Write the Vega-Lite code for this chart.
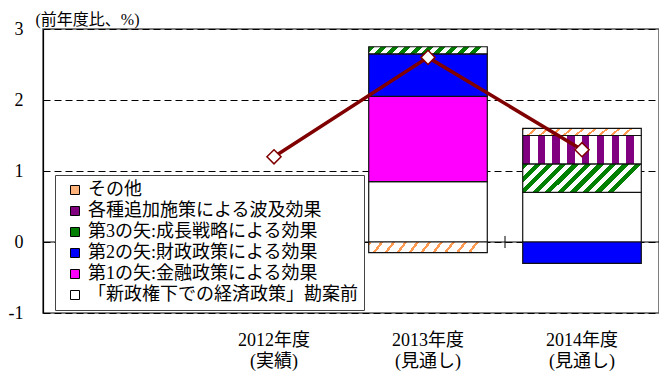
{
  "$schema": "https://vega.github.io/schema/vega-lite/v6.json",
  "width": 616,
  "height": 284,
  "autosize": {"type": "none"},
  "padding": {"left": 43, "top": 29, "right": 0, "bottom": 59},
  "config": {
    "font": "'Liberation Serif', 'Times New Roman', 'Noto Sans CJK JP', serif",
    "view": {"stroke": "#555", "strokeWidth": 1.5},
    "axis": {"labelColor": "#000", "titleColor": "#000"}
  },
  "datasets": {
    "bars": [
      {"year": "2013年度|(見通し)", "fy": 2013, "series": "「新政権下での経済政策」勘案前", "k": 1, "value": 0.85},
      {"year": "2013年度|(見通し)", "fy": 2013, "series": "第1の矢:金融政策による効果", "k": 2, "value": 1.2},
      {"year": "2013年度|(見通し)", "fy": 2013, "series": "第2の矢:財政政策による効果", "k": 3, "value": 0.6},
      {"year": "2013年度|(見通し)", "fy": 2013, "series": "第3の矢:成長戦略による効果", "k": 4, "value": 0.1},
      {"year": "2013年度|(見通し)", "fy": 2013, "series": "その他", "k": 6, "value": -0.15},
      {"year": "2014年度|(見通し)", "fy": 2014, "series": "「新政権下での経済政策」勘案前", "k": 1, "value": 0.7},
      {"year": "2014年度|(見通し)", "fy": 2014, "series": "第2の矢:財政政策による効果", "k": 3, "value": -0.3},
      {"year": "2014年度|(見通し)", "fy": 2014, "series": "第3の矢:成長戦略による効果", "k": 4, "value": 0.4},
      {"year": "2014年度|(見通し)", "fy": 2014, "series": "各種追加施策による波及効果", "k": 5, "value": 0.4},
      {"year": "2014年度|(見通し)", "fy": 2014, "series": "その他", "k": 6, "value": 0.1}
    ],
    "growth": [
      {"year": "2012年度|(実績)", "total": 1.2},
      {"year": "2013年度|(見通し)", "total": 2.6},
      {"year": "2014年度|(見通し)", "total": 1.3}
    ],
    "ticks": [
      {"year": "2012年度|(実績)", "lo": -0.085, "hi": 0.085},
      {"year": "2013年度|(見通し)", "lo": -0.085, "hi": 0.085},
      {"year": "2014年度|(見通し)", "lo": -0.085, "hi": 0.085}
    ],
    "zero": [{"z": 0}]
  },
  "layer": [
    {
      "data": {"name": "zero"},
      "mark": {"type": "rule", "color": "#000", "strokeWidth": 1},
      "encoding": {
        "y": {"field": "z", "type": "quantitative", "scale": {"domain": [-1, 3], "nice": false}}
      }
    },
    {
      "data": {"name": "bars"},
      "mark": {"type": "bar", "width": {"band": 0.77}, "stroke": "#111", "strokeWidth": 1.2},
      "encoding": {
        "x": {
          "field": "year", "type": "nominal",
          "scale": {"domain": ["", "2012年度|(実績)", "2013年度|(見通し)", "2014年度|(見通し)"], "paddingInner": 0, "paddingOuter": 0},
          "axis": {
            "title": null, "domain": false, "ticks": false, "grid": false,
            "labelAngle": 0, "labelFontSize": 18, "labelLineHeight": 21, "labelPadding": 18,
            "labelExpr": "split(datum.value, '|')"
          }
        },
        "y": {
          "field": "value", "type": "quantitative", "stack": "zero",
          "scale": {"domain": [-1, 3], "nice": false},
          "axis": {
            "values": [-1, 0, 1, 2, 3], "labelExpr": "toString(datum.value)", "ticks": false, "labelPadding": 20, "labelFontSize": 18,
            "domainColor": "#000", "domainWidth": 1.2,
            "grid": true, "gridColor": "#000", "gridDash": [7, 4], "gridWidth": 1,
            "title": "(前年度比、%)", "titleAngle": 0, "titleFontSize": 16, "titleFontWeight": "normal",
            "titleAlign": "left", "titleBaseline": "alphabetic", "titleX": -8, "titleY": -5
          }
        },
        "order": {"field": "k", "type": "quantitative"},
        "fill": {
          "condition": [
            {
              "test": "datum.k === 4 && datum.fy === 2014",
              "value": {"gradient": "linear", "x1": 0, "y1": 0, "x2": 1, "y2": 0.24, "stops": [
                {"offset": 0, "color": "#008000"}, {"offset": 0.05, "color": "#008000"}, {"offset": 0.05, "color": "#fff"}, {"offset": 0.1, "color": "#fff"},
                {"offset": 0.1, "color": "#008000"}, {"offset": 0.15, "color": "#008000"}, {"offset": 0.15, "color": "#fff"}, {"offset": 0.2, "color": "#fff"},
                {"offset": 0.2, "color": "#008000"}, {"offset": 0.25, "color": "#008000"}, {"offset": 0.25, "color": "#fff"}, {"offset": 0.3, "color": "#fff"},
                {"offset": 0.3, "color": "#008000"}, {"offset": 0.35, "color": "#008000"}, {"offset": 0.35, "color": "#fff"}, {"offset": 0.4, "color": "#fff"},
                {"offset": 0.4, "color": "#008000"}, {"offset": 0.45, "color": "#008000"}, {"offset": 0.45, "color": "#fff"}, {"offset": 0.5, "color": "#fff"},
                {"offset": 0.5, "color": "#008000"}, {"offset": 0.55, "color": "#008000"}, {"offset": 0.55, "color": "#fff"}, {"offset": 0.6, "color": "#fff"},
                {"offset": 0.6, "color": "#008000"}, {"offset": 0.65, "color": "#008000"}, {"offset": 0.65, "color": "#fff"}, {"offset": 0.7, "color": "#fff"},
                {"offset": 0.7, "color": "#008000"}, {"offset": 0.75, "color": "#008000"}, {"offset": 0.75, "color": "#fff"}, {"offset": 0.8, "color": "#fff"},
                {"offset": 0.8, "color": "#008000"}, {"offset": 0.85, "color": "#008000"}, {"offset": 0.85, "color": "#fff"}, {"offset": 0.9, "color": "#fff"},
                {"offset": 0.9, "color": "#008000"}, {"offset": 0.95, "color": "#008000"}, {"offset": 0.95, "color": "#fff"}, {"offset": 1, "color": "#fff"}
              ]}
            },
            {
              "test": "datum.k === 4 && datum.fy === 2013",
              "value": {"gradient": "linear", "x1": 0, "y1": 0, "x2": 1, "y2": 0.06, "stops": [
                {"offset": 0, "color": "#008000"}, {"offset": 0.05, "color": "#008000"}, {"offset": 0.05, "color": "#fff"}, {"offset": 0.1, "color": "#fff"},
                {"offset": 0.1, "color": "#008000"}, {"offset": 0.15, "color": "#008000"}, {"offset": 0.15, "color": "#fff"}, {"offset": 0.2, "color": "#fff"},
                {"offset": 0.2, "color": "#008000"}, {"offset": 0.25, "color": "#008000"}, {"offset": 0.25, "color": "#fff"}, {"offset": 0.3, "color": "#fff"},
                {"offset": 0.3, "color": "#008000"}, {"offset": 0.35, "color": "#008000"}, {"offset": 0.35, "color": "#fff"}, {"offset": 0.4, "color": "#fff"},
                {"offset": 0.4, "color": "#008000"}, {"offset": 0.45, "color": "#008000"}, {"offset": 0.45, "color": "#fff"}, {"offset": 0.5, "color": "#fff"},
                {"offset": 0.5, "color": "#008000"}, {"offset": 0.55, "color": "#008000"}, {"offset": 0.55, "color": "#fff"}, {"offset": 0.6, "color": "#fff"},
                {"offset": 0.6, "color": "#008000"}, {"offset": 0.65, "color": "#008000"}, {"offset": 0.65, "color": "#fff"}, {"offset": 0.7, "color": "#fff"},
                {"offset": 0.7, "color": "#008000"}, {"offset": 0.75, "color": "#008000"}, {"offset": 0.75, "color": "#fff"}, {"offset": 0.8, "color": "#fff"},
                {"offset": 0.8, "color": "#008000"}, {"offset": 0.85, "color": "#008000"}, {"offset": 0.85, "color": "#fff"}, {"offset": 0.9, "color": "#fff"},
                {"offset": 0.9, "color": "#008000"}, {"offset": 0.95, "color": "#008000"}, {"offset": 0.95, "color": "#fff"}, {"offset": 1, "color": "#fff"}
              ]}
            },
            {
              "test": "datum.k === 5",
              "value": {"gradient": "linear", "x1": 0, "y1": 0, "x2": 1, "y2": 0, "stops": [
                {"offset": 0, "color": "#800080"}, {"offset": 0.0625, "color": "#800080"}, {"offset": 0.0625, "color": "#fff"}, {"offset": 0.125, "color": "#fff"},
                {"offset": 0.125, "color": "#800080"}, {"offset": 0.1875, "color": "#800080"}, {"offset": 0.1875, "color": "#fff"}, {"offset": 0.25, "color": "#fff"},
                {"offset": 0.25, "color": "#800080"}, {"offset": 0.3125, "color": "#800080"}, {"offset": 0.3125, "color": "#fff"}, {"offset": 0.375, "color": "#fff"},
                {"offset": 0.375, "color": "#800080"}, {"offset": 0.4375, "color": "#800080"}, {"offset": 0.4375, "color": "#fff"}, {"offset": 0.5, "color": "#fff"},
                {"offset": 0.5, "color": "#800080"}, {"offset": 0.5625, "color": "#800080"}, {"offset": 0.5625, "color": "#fff"}, {"offset": 0.625, "color": "#fff"},
                {"offset": 0.625, "color": "#800080"}, {"offset": 0.6875, "color": "#800080"}, {"offset": 0.6875, "color": "#fff"}, {"offset": 0.75, "color": "#fff"},
                {"offset": 0.75, "color": "#800080"}, {"offset": 0.8125, "color": "#800080"}, {"offset": 0.8125, "color": "#fff"}, {"offset": 0.875, "color": "#fff"},
                {"offset": 0.875, "color": "#800080"}, {"offset": 0.9375, "color": "#800080"}, {"offset": 0.9375, "color": "#fff"}, {"offset": 1, "color": "#fff"}
              ]}
            },
            {
              "test": "datum.k === 6",
              "value": {"gradient": "linear", "x1": 0, "y1": 0, "x2": 1, "y2": 0.07, "stops": [
                {"offset": 0, "color": "#ff9a50"}, {"offset": 0.025, "color": "#ff9a50"}, {"offset": 0.025, "color": "#fff"}, {"offset": 0.1, "color": "#fff"},
                {"offset": 0.1, "color": "#ff9a50"}, {"offset": 0.125, "color": "#ff9a50"}, {"offset": 0.125, "color": "#fff"}, {"offset": 0.2, "color": "#fff"},
                {"offset": 0.2, "color": "#ff9a50"}, {"offset": 0.225, "color": "#ff9a50"}, {"offset": 0.225, "color": "#fff"}, {"offset": 0.3, "color": "#fff"},
                {"offset": 0.3, "color": "#ff9a50"}, {"offset": 0.325, "color": "#ff9a50"}, {"offset": 0.325, "color": "#fff"}, {"offset": 0.4, "color": "#fff"},
                {"offset": 0.4, "color": "#ff9a50"}, {"offset": 0.425, "color": "#ff9a50"}, {"offset": 0.425, "color": "#fff"}, {"offset": 0.5, "color": "#fff"},
                {"offset": 0.5, "color": "#ff9a50"}, {"offset": 0.525, "color": "#ff9a50"}, {"offset": 0.525, "color": "#fff"}, {"offset": 0.6, "color": "#fff"},
                {"offset": 0.6, "color": "#ff9a50"}, {"offset": 0.625, "color": "#ff9a50"}, {"offset": 0.625, "color": "#fff"}, {"offset": 0.7, "color": "#fff"},
                {"offset": 0.7, "color": "#ff9a50"}, {"offset": 0.725, "color": "#ff9a50"}, {"offset": 0.725, "color": "#fff"}, {"offset": 0.8, "color": "#fff"},
                {"offset": 0.8, "color": "#ff9a50"}, {"offset": 0.825, "color": "#ff9a50"}, {"offset": 0.825, "color": "#fff"}, {"offset": 0.9, "color": "#fff"},
                {"offset": 0.9, "color": "#ff9a50"}, {"offset": 0.925, "color": "#ff9a50"}, {"offset": 0.925, "color": "#fff"}, {"offset": 1, "color": "#fff"}
              ]}
            }
          ],
          "field": "series", "type": "nominal",
          "scale": {
            "domain": ["その他", "各種追加施策による波及効果", "第3の矢:成長戦略による効果", "第2の矢:財政政策による効果", "第1の矢:金融政策による効果", "「新政権下での経済政策」勘案前"],
            "range": ["#ffb27a", "#800080", "#008000", "#0000ff", "#ff00ff", "#ffffff"]
          },
          "legend": {
            "title": null, "orient": "none", "legendX": 12, "legendY": 146,
            "padding": 6, "symbolOffset": 5, "symbolType": "square", "symbolSize": 81,
            "symbolStrokeColor": "#000", "symbolStrokeWidth": 1,
            "labelFontSize": 18, "labelOffset": 4, "rowPadding": 3, "labelLimit": 400,
            "fillColor": "#fff", "strokeColor": "#444"
          }
        }
      }
    },
    {
      "data": {"name": "ticks"},
      "mark": {"type": "rule", "color": "#000", "strokeWidth": 1},
      "encoding": {
        "x": {"field": "year", "type": "nominal", "bandPosition": 0,
              "scale": {"domain": ["", "2012年度|(実績)", "2013年度|(見通し)", "2014年度|(見通し)"]}},
        "y": {"field": "lo", "type": "quantitative"},
        "y2": {"field": "hi"}
      }
    },
    {
      "data": {"name": "growth"},
      "mark": {"type": "line", "color": "#800000", "strokeWidth": 3.5},
      "encoding": {
        "x": {"field": "year", "type": "nominal",
              "scale": {"domain": ["", "2012年度|(実績)", "2013年度|(見通し)", "2014年度|(見通し)"]}},
        "y": {"field": "total", "type": "quantitative"}
      }
    },
    {
      "data": {"name": "growth"},
      "mark": {"type": "point", "shape": "diamond", "filled": true, "fill": "#fff", "stroke": "#800000", "strokeWidth": 1.5, "size": 200, "opacity": 1},
      "encoding": {
        "x": {"field": "year", "type": "nominal",
              "scale": {"domain": ["", "2012年度|(実績)", "2013年度|(見通し)", "2014年度|(見通し)"]}},
        "y": {"field": "total", "type": "quantitative"}
      }
    }
  ]
}
